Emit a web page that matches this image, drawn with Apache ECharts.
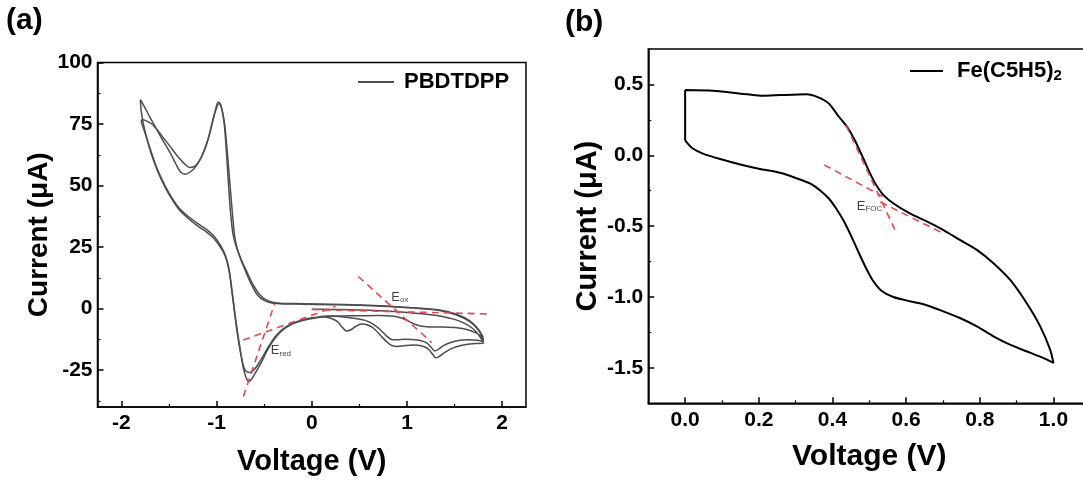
<!DOCTYPE html>
<html>
<head>
<meta charset="utf-8">
<title>Cyclic voltammetry</title>
<script src="https://cdn.jsdelivr.net/npm/echarts@6/dist/echarts.min.js"></script>
<style>
  html, body { margin: 0; padding: 0; background: #fff; }
  #chart { width: 1083px; height: 484px; }
</style>
</head>
<body>
<div id="chart"></div>
<script>
// ---------- panel (a): PBDTDPP, voltage (V) vs current (uA) ----------
// first half sweep from 0 V up to 1.8 V and the shoulder path back
const aSweepStart = [
  [0.0, -0.3], [0.2, -0.35], [0.4, -0.45], [0.62, -0.7], [0.82, -1.1], [1.0, -1.6],
  [1.2, -2.3], [1.36, -3.1], [1.5, -4.4], [1.6, -5.9], [1.68, -7.8], [1.74, -10.0],
  [1.78, -12.3], [1.8, -13.2], [1.78, -11.4], [1.72, -9.8], [1.62, -8.4], [1.5, -7.7],
  [1.38, -7.5], [1.25, -7.5], [1.16, -7.2], [1.09, -6.5], [1.02, -5.2], [0.95, -3.9],
  [0.86, -3.1], [0.7, -2.8], [0.5, -2.9], [0.3, -3.0], [0.15, -3.1]
];
// full cycle 1
const aCycle1 = [
  [1.8, -13.4], [1.74, -12.9], [1.64, -12.7], [1.54, -13.0], [1.45, -13.9], [1.38, -15.2],
  [1.32, -16.8], [1.29, -17.2], [1.26, -16.0], [1.21, -14.0], [1.14, -13.0], [1.05, -12.6],
  [0.97, -12.5], [0.9, -12.7], [0.84, -12.6], [0.79, -11.3], [0.72, -8.6], [0.64, -6.2],
  [0.56, -4.8], [0.46, -4.0], [0.36, -3.5], [0.25, -3.1], [0.12, -3.1], [0.05, -3.5],
  [-0.05, -4.1], [-0.15, -5.2], [-0.24, -6.7], [-0.32, -8.8], [-0.4, -12.2], [-0.47, -16.5],
  [-0.54, -21.2], [-0.6, -24.6], [-0.65, -26.0], [-0.69, -25.5], [-0.72, -23.0], [-0.75, -17.5],
  [-0.78, -10.5], [-0.81, -2.0], [-0.84, 7.5], [-0.87, 15.8], [-0.91, 21.5], [-0.96, 25.0],
  [-1.03, 28.6], [-1.1, 31.0], [-1.2, 33.6], [-1.3, 36.7], [-1.4, 40.6], [-1.5, 46.5],
  [-1.58, 52.5], [-1.65, 59.0], [-1.71, 66.0], [-1.76, 73.5], [-1.79, 80.0], [-1.8, 84.9],
  [-1.75, 81.5], [-1.7, 77.8], [-1.62, 72.3], [-1.55, 67.4], [-1.49, 63.6], [-1.43, 59.0],
  [-1.38, 55.6], [-1.33, 54.6], [-1.28, 55.4], [-1.22, 57.6], [-1.16, 61.6], [-1.1, 67.4],
  [-1.05, 74.5], [-1.01, 80.8], [-0.985, 83.8], [-0.965, 83.6], [-0.95, 82.0], [-0.915, 75.0],
  [-0.88, 60.5], [-0.845, 44.0], [-0.81, 29.5], [-0.78, 24.0], [-0.755, 21.0], [-0.72, 17.5],
  [-0.68, 13.8], [-0.63, 9.5], [-0.57, 5.5], [-0.5, 3.3], [-0.42, 2.3], [-0.3, 1.9],
  [-0.1, 1.8], [0.2, 1.6], [0.5, 1.4], [0.82, 0.8], [1.1, 0.1], [1.34, -0.8],
  [1.52, -2.6], [1.66, -5.3], [1.75, -8.7], [1.8, -12.0]
];
// full cycle 2
const aCycle2 = [
  [1.8, -12.0], [1.8, -14.1], [1.72, -14.2], [1.62, -14.6], [1.52, -15.5], [1.44, -16.8],
  [1.38, -18.3], [1.33, -19.7], [1.3, -20.0], [1.27, -18.6], [1.22, -16.3], [1.15, -15.1],
  [1.06, -14.8], [0.97, -15.1], [0.9, -15.4], [0.84, -15.0], [0.79, -13.6], [0.72, -10.8],
  [0.65, -8.0], [0.58, -6.6], [0.52, -6.3], [0.46, -7.3], [0.41, -8.6], [0.365, -9.1],
  [0.32, -7.6], [0.27, -5.3], [0.2, -3.9], [0.12, -3.4], [0.05, -3.7], [-0.05, -4.4],
  [-0.15, -5.5], [-0.24, -7.0], [-0.32, -9.2], [-0.4, -12.8], [-0.47, -17.2], [-0.53, -22.0],
  [-0.59, -26.0], [-0.63, -28.6], [-0.66, -29.6], [-0.69, -28.0], [-0.72, -23.8], [-0.75, -17.0],
  [-0.78, -9.5], [-0.81, -1.0], [-0.84, 8.0], [-0.87, 16.2], [-0.91, 22.0], [-0.96, 25.8],
  [-1.03, 29.6], [-1.1, 32.0], [-1.2, 34.6], [-1.3, 37.5], [-1.4, 41.2], [-1.5, 47.0],
  [-1.58, 53.0], [-1.65, 59.5], [-1.71, 66.5], [-1.76, 72.5], [-1.79, 76.1], [-1.78, 76.8],
  [-1.75, 76.5], [-1.69, 75.3], [-1.62, 72.5], [-1.55, 69.0], [-1.48, 65.5], [-1.4, 61.5],
  [-1.33, 58.6], [-1.28, 57.3], [-1.23, 57.8], [-1.18, 60.0], [-1.13, 64.0], [-1.08, 70.0],
  [-1.04, 76.5], [-1.0, 81.5], [-0.975, 83.2], [-0.955, 82.5], [-0.935, 79.5], [-0.915, 73.5],
  [-0.895, 63.0], [-0.875, 51.0], [-0.855, 40.0], [-0.83, 31.0], [-0.8, 26.0], [-0.77, 22.8],
  [-0.73, 19.0], [-0.68, 14.8], [-0.62, 10.0], [-0.55, 5.8], [-0.48, 3.5], [-0.4, 2.5],
  [-0.3, 2.1], [-0.1, 2.0], [0.2, 1.8], [0.5, 1.5], [0.82, 0.9], [1.1, 0.2],
  [1.34, -0.6], [1.52, -2.3], [1.66, -5.0], [1.75, -8.4], [1.8, -11.6]
];
// onset tangents (red dashed) and their tags
const aTangents = [
  [[-0.718, -35.7], [-0.39, 2.0]],
  [[-0.72, -12.8], [0.25, 0.8]],
  [[0.0, -0.4], [1.88, -2.2]],
  [[0.49, 13.0], [1.26, -13.8]]
];
const aTags = [
  { at: [-0.43, -17.2], sub: 'red' },
  { at: [0.835, 4.5], sub: 'ox' }
];
const aMajorX = [-2, -1, 0, 1, 2];
const aMinorX = [-1.5, -0.5, 0.5, 1.5];
const aMajorY = [-25, 0, 25, 50, 75, 100];
const aMinorY = [-37.5, -12.5, 12.5, 37.5, 62.5, 87.5];

// ---------- panel (b): ferrocene reference ----------
const bUpper = [
  [0.0, 0.46], [0.075, 0.455], [0.17, 0.43], [0.21, 0.42], [0.26, 0.425], [0.33, 0.43],
  [0.36, 0.41], [0.39, 0.365], [0.415, 0.28], [0.44, 0.2], [0.46, 0.11], [0.485, -0.03],
  [0.51, -0.17], [0.535, -0.27], [0.565, -0.338], [0.61, -0.41], [0.656, -0.467], [0.7, -0.526],
  [0.746, -0.597], [0.792, -0.667], [0.837, -0.761], [0.882, -0.878], [0.927, -1.042], [0.964, -1.207],
  [0.991, -1.371], [1.0, -1.465]
];
const bLower = [
  [1.0, -1.465], [0.972, -1.43], [0.927, -1.383], [0.882, -1.336], [0.837, -1.277], [0.792, -1.207],
  [0.746, -1.148], [0.701, -1.101], [0.656, -1.058], [0.61, -1.03], [0.565, -1.0], [0.535, -0.96],
  [0.51, -0.885], [0.49, -0.79], [0.47, -0.68], [0.45, -0.565], [0.43, -0.46], [0.41, -0.375],
  [0.39, -0.305], [0.365, -0.245], [0.34, -0.2], [0.3, -0.16], [0.26, -0.125], [0.2, -0.095],
  [0.15, -0.065], [0.1, -0.03], [0.05, 0.01], [0.02, 0.05], [0.005, 0.09], [0.0, 0.11], [0.0, 0.46]
];
const bTangents = [
  [[0.437, 0.21], [0.574, -0.55]],
  [[0.378, -0.068], [0.536, -0.29]],
  [[0.53, -0.33], [0.70, -0.55]]
];
const bTags = [{ at: [0.466, -0.362], sub: 'FOC' }];
const bMajorX = [0, 0.2, 0.4, 0.6, 0.8, 1.0];
const bMinorX = [0.1, 0.3, 0.5, 0.7, 0.9];
const bMajorY = [-1.5, -1.0, -0.5, 0, 0.5];
const bMinorY = [-1.25, -0.75, -0.25, 0.25];

const FONT = '"Liberation Sans", Arial, Helvetica, sans-serif';
const RED = '#e5474b';

const chart = echarts.init(document.getElementById('chart'));

function mainAxis(dim, grid, min, max, ticks, fmt, name, gap, nameSize) {
  return {
    type: 'value', gridIndex: grid, min, max,
    position: dim === 'x' ? 'bottom' : 'left',
    name, nameLocation: 'middle', nameGap: gap,
    nameTextStyle: { fontFamily: FONT, fontWeight: 'bold', fontSize: nameSize, color: '#000' },
    axisLine: { show: true, onZero: false, lineStyle: { color: '#000', width: 1.5 } },
    axisTick: { show: true, inside: true, length: 6, customValues: ticks, lineStyle: { color: '#000', width: 1.5 } },
    axisLabel: {
      customValues: ticks, margin: dim === 'x' ? 6 : 5, formatter: fmt,
      fontFamily: FONT, fontWeight: 'bold', fontSize: 21, color: '#000'
    },
    splitLine: { show: false }
  };
}
// overlay axis only drawing the short minor ticks
function minorAxis(dim, grid, min, max, ticks) {
  return {
    type: 'value', gridIndex: grid, min, max,
    position: dim === 'x' ? 'bottom' : 'left',
    axisLine: { show: false, onZero: false },
    axisTick: { show: true, inside: true, length: 3, customValues: ticks, lineStyle: { color: '#000', width: 1.2 } },
    axisLabel: { show: false },
    splitLine: { show: false }
  };
}
function curve(name, data, xi, yi, color, width) {
  return {
    type: 'line', name, data, xAxisIndex: xi, yAxisIndex: yi,
    symbol: 'none', smooth: 0.25, silent: true, z: 2,
    lineStyle: { color, width }, itemStyle: { color }
  };
}
function tangent(data, xi, yi) {
  return {
    type: 'line', data, xAxisIndex: xi, yAxisIndex: yi, symbol: 'none', silent: true, z: 3,
    lineStyle: { color: RED, width: 1.6, type: [7, 5] }
  };
}
function tag(t, xi, yi) {
  return {
    type: 'scatter', data: [t.at], xAxisIndex: xi, yAxisIndex: yi, symbolSize: 0, silent: true, z: 4,
    label: {
      show: true, position: 'right', distance: 0,
      formatter: '{e|E}{s|' + t.sub + '}',
      rich: {
        e: { fontFamily: FONT, fontSize: 13, color: '#111' },
        s: { fontFamily: FONT, fontSize: 8, color: '#111', verticalAlign: 'bottom', padding: [4, 0, 0, 0] }
      }
    }
  };
}

const fix1 = v => v.toFixed(1);

const series = [
  curve('PBDTDPP', aSweepStart, 0, 0, '#4d4d4d', 1.5),
  curve('PBDTDPP', aCycle1, 0, 0, '#4d4d4d', 1.5),
  curve('PBDTDPP', aCycle2, 0, 0, '#4d4d4d', 1.5),
  curve('Fe(C5H5)2', bUpper.concat(bLower), 2, 2, '#000', 2)
];
aTangents.forEach(t => series.push(tangent(t, 0, 0)));
bTangents.forEach(t => series.push(tangent(t, 2, 2)));
aTags.forEach(t => series.push(tag(t, 0, 0)));
bTags.forEach(t => series.push(tag(t, 2, 2)));

const legendText = { fontFamily: FONT, fontWeight: 'bold', fontSize: 22, color: '#000' };

chart.setOption({
  animation: false,
  backgroundColor: '#fff',
  grid: [
    { left: 97.5, top: 62.5, width: 428.5, height: 344.5, outerBoundsMode: 'none', containLabel: false,
      show: true, borderColor: '#000', borderWidth: 1.5, backgroundColor: 'transparent' },
    { left: 648.3, top: 49, width: 442, height: 354.3, outerBoundsMode: 'none', containLabel: false,
      show: true, borderColor: '#000', borderWidth: 1.5, backgroundColor: 'transparent' }
  ],
  xAxis: [
    mainAxis('x', 0, -2.25, 2.25, aMajorX, v => String(v), 'Voltage (V)', 40, 29),
    minorAxis('x', 0, -2.25, 2.25, aMinorX),
    mainAxis('x', 1, -0.1, 1.1, bMajorX, fix1, 'Voltage (V)', 38, 30),
    minorAxis('x', 1, -0.1, 1.1, bMinorX)
  ],
  yAxis: [
    mainAxis('y', 0, -40, 100, aMajorY, v => String(v), 'Current (μA)', 42, 28),
    minorAxis('y', 0, -40, 100, aMinorY),
    mainAxis('y', 1, -1.75, 0.75, bMajorY, fix1, 'Current (μA)', 46, 29),
    minorAxis('y', 1, -1.75, 0.75, bMinorY)
  ],
  legend: [
    {
      data: ['PBDTDPP'], left: 358, top: 71, padding: 0, icon: 'rect', itemWidth: 36, itemHeight: 2,
      selectedMode: false, formatter: '{a|PBDTDPP}',
      textStyle: Object.assign({}, legendText, { rich: { a: Object.assign({ padding: [0, 0, 0, 5] }, legendText) } })
    },
    {
      data: ['Fe(C5H5)2'], left: 910, top: 60, padding: 0, icon: 'rect', itemWidth: 33, itemHeight: 2,
      selectedMode: false, formatter: '{a|Fe(C5H5)}{s|2}',
      textStyle: Object.assign({}, legendText, {
        rich: {
          a: Object.assign({ padding: [0, 0, 0, 9] }, legendText),
          s: { fontFamily: FONT, fontWeight: 'bold', fontSize: 15, color: '#000', verticalAlign: 'bottom', padding: [9, 0, 0, 0] }
        }
      })
    }
  ],
  graphic: [
    { type: 'text', left: 6, top: 6, style: { text: '(a)', font: 'bold 30px ' + FONT, fill: '#000' } },
    { type: 'text', left: 565, top: 8, style: { text: '(b)', font: 'bold 30px ' + FONT, fill: '#000' } }
  ],
  series
});
</script>
</body>
</html>
